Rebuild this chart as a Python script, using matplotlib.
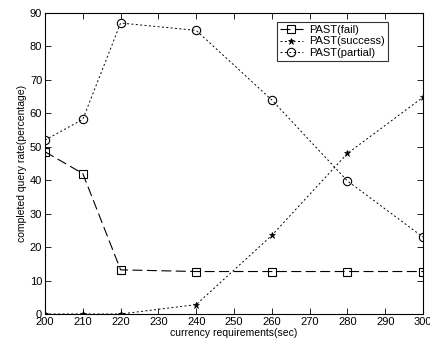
import matplotlib
matplotlib.use("Agg")
import matplotlib.pyplot as plt

x = [200, 210, 220, 240, 260, 280, 300]
fail = [48.5, 42, 13.2, 12.7, 12.7, 12.7, 12.7]
success = [0, 0, 0, 2.8, 23.5, 48, 64.8]
partial = [52, 58.2, 87, 84.8, 64, 39.8, 23]
xticks = list(range(200, 301, 10))
yticks = list(range(0, 91, 10))

plt.rcParams['font.family'] = ['Liberation Sans', 'DejaVu Sans']
fig = plt.figure(figsize=(4.3, 3.45), dpi=100)
ax = fig.add_axes([45/430, 31/345, 378/430, 301/345])

ax.plot(x, fail, color='black', lw=0.8, dashes=(9, 4), marker='s', ms=6,
        mfc='none', mec='black', mew=0.8, label='PAST(fail)')
ax.plot(x, success, color='black', lw=0.7, dashes=(2, 2.5), marker='*', ms=5,
        mfc='black', mec='black', mew=0.5, label='PAST(success)')
ax.plot(x, partial, color='black', lw=0.7, dashes=(2, 2.5), marker='o', ms=6,
        mfc='none', mec='black', mew=0.8, label='PAST(partial)')

ax.set_xlim(200, 300)
ax.set_ylim(0, 90)
ax.set_xticks(xticks)
ax.set_yticks(yticks)
ax.tick_params(direction='in', top=True, right=True, labelsize=8, length=4, width=0.6, pad=2)
for s in ax.spines.values():
    s.set_linewidth(0.8)
ax.set_xlabel('currency requirements(sec)', fontsize=7.5, labelpad=1)
ax.set_ylabel('completed query rate(percentage)', fontsize=7.5, labelpad=2)

leg = ax.legend(loc='upper left', bbox_to_anchor=(232/378, 1 - 9/301), fontsize=8,
                frameon=True, fancybox=False, edgecolor='black', handlelength=2,
                borderpad=0.3, labelspacing=0.1, handletextpad=0.6, borderaxespad=0)
leg.get_frame().set_linewidth(0.8)

fig.savefig('out.png', dpi=100)
